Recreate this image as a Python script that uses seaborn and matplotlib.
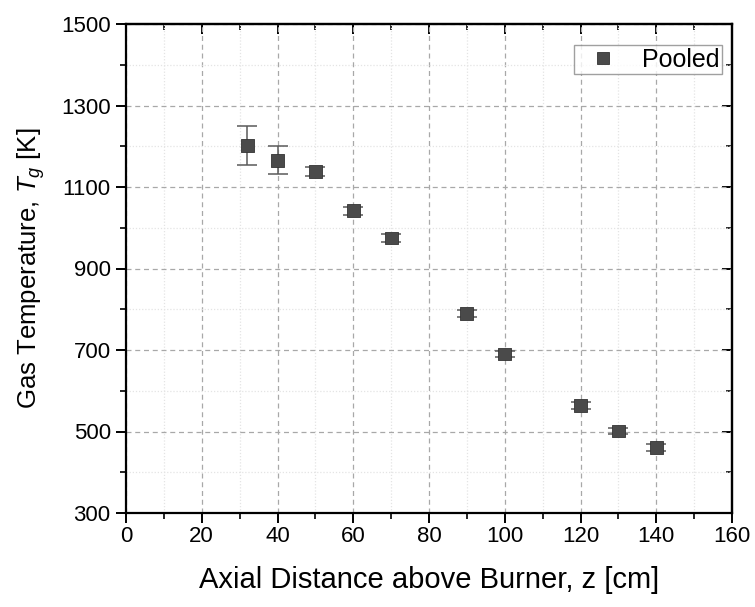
import matplotlib
matplotlib.use("Agg")
import matplotlib.pyplot as plt
import seaborn as sns
import numpy as np
import pandas as pd
from matplotlib.ticker import MultipleLocator

# Data
z_cm = [32, 40, 50, 60, 70, 90, 100, 120, 130, 140]
temp_K = [1202, 1166, 1138, 1042, 975, 790, 690, 564, 501, 461]
temp_err = [48, 35, 11, 10, 9, 9, 8, 9, 8, 9]
series_name = "Pooled"
y_ticks = [300, 500, 700, 900, 1100, 1300, 1500]

df = pd.DataFrame({"z": z_cm, "T": temp_K, "err": temp_err, "series": series_name})

sns.set_theme(style="white")
plt.rcParams['font.family'] = ['Liberation Sans', 'DejaVu Sans']
plt.rcParams['mathtext.fontset'] = 'custom'
plt.rcParams['mathtext.rm'] = 'Liberation Sans'
plt.rcParams['mathtext.it'] = 'Liberation Sans:italic'
plt.rcParams['text.color'] = 'black'
plt.rcParams['axes.labelcolor'] = 'black'
plt.rcParams['xtick.color'] = 'black'
plt.rcParams['ytick.color'] = 'black'

fig = plt.figure(figsize=(7.55, 6.07), dpi=100)
ax = fig.add_axes([126/755, 1-513/607, (732-126)/755, (513-24)/607])

ax.set_xlim(0, 160)
ax.set_ylim(300, 1500)
ax.xaxis.set_major_locator(MultipleLocator(20))
ax.xaxis.set_minor_locator(MultipleLocator(10))
ax.set_yticks(y_ticks)
ax.yaxis.set_minor_locator(MultipleLocator(100))
ax.grid(True, which='major', color='#a8a8a8', linestyle=(0, (4, 3)), linewidth=0.9)
ax.grid(True, which='minor', color='#e4e4e4', linestyle=(0, (1, 1.5)), linewidth=0.9)
ax.set_axisbelow(True)

ax.errorbar(df["z"], df["T"], yerr=df["err"], fmt='none', ecolor='#5a5a5a',
            elinewidth=1.1, capsize=7.5, capthick=1.1, zorder=2)
sns.scatterplot(data=df, x="z", y="T", hue="series", palette=['#4a4a4a'],
                marker='s', s=85, edgecolor='#333333', linewidth=0.6, ax=ax, zorder=3)

for sp in ax.spines.values():
    sp.set_color('black')
    sp.set_linewidth(1.6)

ax.tick_params(axis='both', which='major', labelsize=16, labelcolor='black', color='black', width=1.4)
ax.tick_params(axis='x', which='major', direction='out', length=7, bottom=True, top=False, pad=2)
ax.tick_params(axis='x', which='minor', direction='out', length=4, width=1.2, bottom=True, top=False)
ax.tick_params(axis='y', which='major', direction='out', length=7, left=True, right=False, pad=4)
ax.tick_params(axis='y', which='minor', direction='out', length=4, width=1.2, left=True, right=False)

sec_x = ax.secondary_xaxis('top')
sec_x.xaxis.set_major_locator(MultipleLocator(20))
sec_x.xaxis.set_minor_locator(MultipleLocator(10))
sec_x.tick_params(which='major', direction='in', length=7, width=1.4, labeltop=False)
sec_x.tick_params(which='minor', direction='in', length=4, width=1.2)
sec_x.spines['top'].set_linewidth(1.6)
sec_y = ax.secondary_yaxis('right')
sec_y.set_yticks(y_ticks)
sec_y.yaxis.set_minor_locator(MultipleLocator(100))
sec_y.tick_params(which='major', direction='in', length=7, width=1.4, labelright=False)
sec_y.tick_params(which='minor', direction='in', length=4, width=1.2)
sec_y.spines['right'].set_linewidth(1.6)

ax.set_xlabel("Axial Distance above Burner, z [cm]", fontsize=21, labelpad=14, color='black')
ax.set_ylabel("Gas Temperature, $T_g$ [K]", fontsize=18.5, labelpad=10, color='black')

leg = ax.legend(loc='upper right', bbox_to_anchor=(0.983, 0.957), fontsize=18, frameon=True,
                fancybox=False, edgecolor='#888888', markerscale=1.0, handletextpad=0.5,
                borderpad=0.1, handlelength=2.1, borderaxespad=0.0)
leg.get_frame().set_linewidth(1.0)
for t in leg.get_texts():
    t.set_color('black')

fig.savefig("out.png", dpi=100)
